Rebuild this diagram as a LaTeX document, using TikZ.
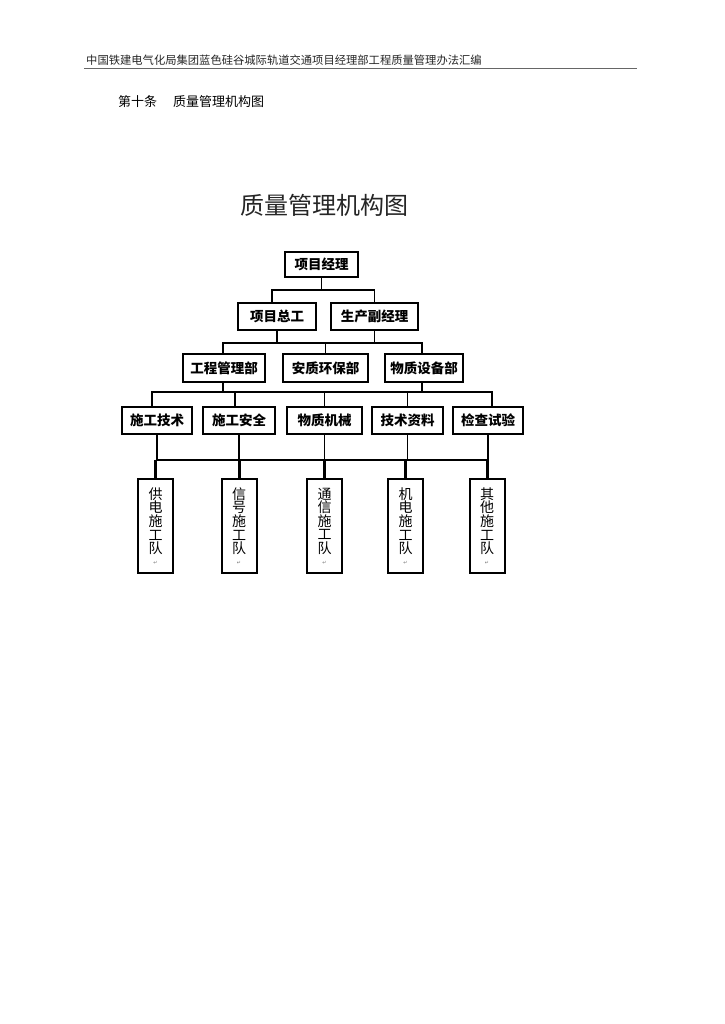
\documentclass[tikz,border=0pt]{standalone}
\usepackage{fontspec}
\newfontfamily\cjk{Noto Sans CJK SC}
\newfontfamily\dejavu{DejaVu Sans}
\begin{document}
\begin{tikzpicture}[x=1pt,y=-1pt,
  box/.style={draw=black,line width=1.9pt,inner sep=0pt,minimum height=27pt,
    font=\cjk\bfseries\fontsize{13.5}{13.5}\selectfont},
  tallbox/.style={draw=black,line width=2pt,inner sep=0pt,minimum width=35pt,minimum height=94pt,
    align=center,font=\cjk\fontsize{14}{13.6}\selectfont},
  conn/.style={line width=1.6pt,draw=black},
  thick conn/.style={line width=3pt,draw=black}
]
\useasboundingbox (0,0) rectangle (724,1024);
\fill[white] (0,0) rectangle (724,1024);
% header
\node[anchor=west,inner sep=0pt,font=\cjk\fontsize{11.3}{12}\selectfont,text=black!85] (hdr) at (86,60) {中国铁建电气化局集团蓝色硅谷城际轨道交通项目经理部工程质量管理办法汇编};
\coordinate (hl) at (84,68);
\coordinate (hr) at (637,68);
\draw[line width=0.8pt,black!60] (hl) -- (hr);
% section heading
\node[anchor=west,inner sep=0pt,font=\cjk\fontsize{13}{14}\selectfont] (sec) at (118,102) {第十条};
\node[anchor=west,inner sep=0pt,font=\cjk\fontsize{13}{14}\selectfont] (sect) at (173,102) {质量管理机构图};
% title
\node[inner sep=0pt,font=\cjk\fontsize{24}{26}\selectfont,text=black!85] (title) at (324,205) {质量管理机构图};
% level 1
\node[box,minimum width=73pt,minimum height=25pt] (pm) at (321.5,264.5) {项目经理};
% level 2
\node[box,minimum width=78pt] (zg) at (277,316.5) {项目总工};
\node[box,minimum width=87pt] (fj) at (374.5,316.5) {生产副经理};
% level 3
\node[box,minimum width=82pt,minimum height=28pt] (gc) at (224,368) {工程管理部};
\node[box,minimum width=85pt,minimum height=28pt] (aq) at (325.5,368) {安质环保部};
\node[box,minimum width=78pt,minimum height=28pt] (wz) at (424,368) {物质设备部};
% level 4
\node[box,minimum width=70pt] (js) at (157,420.5) {施工技术};
\node[box,minimum width=72pt] (aqs) at (239,420.5) {施工安全};
\node[box,minimum width=75pt] (wj) at (324.5,420.5) {物质机械};
\node[box,minimum width=71pt] (zl) at (407.5,420.5) {技术资料};
\node[box,minimum width=70pt] (jc) at (488,420.5) {检查试验};
% level 5
\newcommand{\pmark}{\\[-3pt]{\dejavu\fontsize{5}{5}\selectfont\color{black!55}↵}}
\node[tallbox] (gd) at (155.5,526) {供\\电\\施\\工\\队\pmark};
\node[tallbox] (xh) at (239,526) {信\\号\\施\\工\\队\pmark};
\node[tallbox] (tx) at (324.5,526) {通\\信\\施\\工\\队\pmark};
\node[tallbox] (jd) at (405.5,526) {机\\电\\施\\工\\队\pmark};
\node[tallbox] (qt) at (487,526) {其\\他\\施\\工\\队\pmark};
% connectors level 1-2
\coordinate (j1) at (321.5,290);
\draw[conn] (pm) -- (j1);
\draw[conn] ([xshift=-5pt]zg.north) |- (j1) -| (fj.north);
% level 2-3
\coordinate (j2) at (0,343);
\draw[conn] ([xshift=-1pt]gc.north) |- ([xshift=-2pt]wz.north |- j2) -- ([xshift=-2pt]wz.north);
\draw[conn] (zg.south) -- (zg.south |- j2);
\draw[conn] (fj.south) -- (fj.south |- j2);
\draw[conn] (aq.north) -- (aq.north |- j2);
% level 3-4
\coordinate (j3) at (0,392);
\draw[conn] ([xshift=-1pt]gc.south) -- ([xshift=-1pt]gc.south |- j3);
\draw[conn] ([xshift=-2pt]wz.south) -- ([xshift=-2pt]wz.south |- j3);
\draw[conn] ([xshift=-5pt]js.north) |- ([xshift=4pt]jc.north |- j3) -- ([xshift=4pt]jc.north);
\draw[conn] ([xshift=-4pt]aqs.north) -- ([xshift=-4pt]aqs.north |- j3);
\draw[conn] (wj.north) -- (wj.north |- j3);
\draw[conn] (zl.north) -- (zl.north |- j3);
% level 4-5
\coordinate (j4) at (0,460);
\draw[conn] (js.south) -- (js.south |- j4);
\draw[conn] (aqs.south) -- (aqs.south |- j4);
\draw[conn] (wj.south) -- (wj.south |- j4);
\draw[conn] (zl.south) -- (zl.south |- j4);
\draw[conn] (jc.south) -- (jc.south |- j4);
\draw[conn] (gd.north |- j4) -- (qt.north |- j4);
\draw[thick conn] (gd.north |- j4) -- (gd.north);
\draw[thick conn] (xh.north |- j4) -- (xh.north);
\draw[thick conn] (tx.north |- j4) -- (tx.north);
\draw[thick conn] (jd.north |- j4) -- (jd.north);
\draw[thick conn] (qt.north |- j4) -- (qt.north);
\end{tikzpicture}
\end{document}
